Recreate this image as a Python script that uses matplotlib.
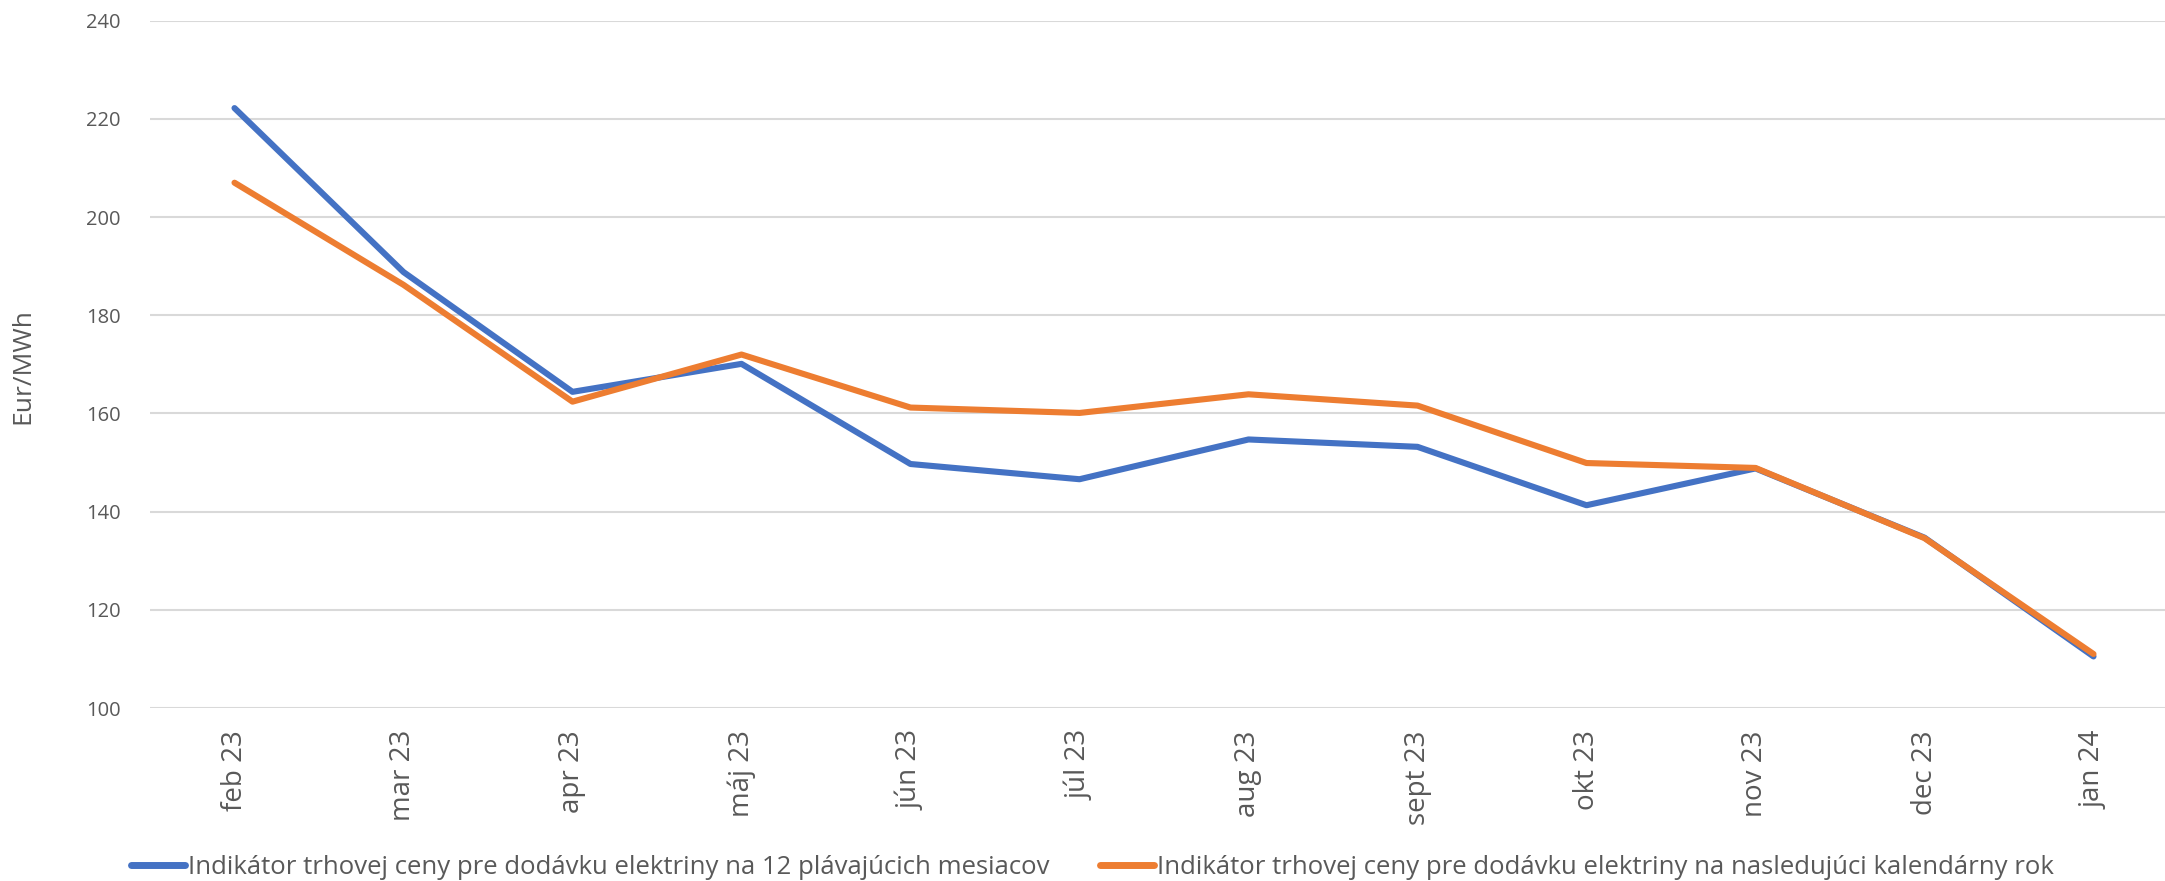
import matplotlib
matplotlib.use("Agg")
import matplotlib.pyplot as plt

months = ["feb 23", "mar 23", "apr 23", "máj 23", "jún 23", "júl 23", "aug 23",
          "sept 23", "okt 23", "nov 23", "dec 23", "jan 24"]
rolling_12m = [222.2, 188.8, 164.4, 170.1, 149.7, 146.6, 154.7, 153.2, 141.3, 148.8, 134.7, 110.5]
next_year = [207.0, 186.2, 162.4, 172.0, 161.2, 160.1, 163.9, 161.6, 149.9, 148.9, 134.6, 111.0]
labels = ["Indikátor trhovej ceny pre dodávku elektriny na 12 plávajúcich mesiacov",
          "Indikátor trhovej ceny pre dodávku elektriny na nasledujúci kalendárny rok"]
yticks = [100, 120, 140, 160, 180, 200, 220, 240]

plt.rcParams['font.family'] = ['Open Sans', 'DejaVu Sans']
txt = '#595959'

W, H = 2165, 881
fig = plt.figure(figsize=(W / 100, H / 100), dpi=100)
left, right = 150 / W, 2178 / W
bottom, top = 1 - 708 / H, 1 - 20.7 / H
ax = fig.add_axes([left, bottom, right - left, top - bottom])

x = list(range(len(months)))
ax.plot(x, rolling_12m, color='#4472C4', lw=4.4, solid_capstyle='round', solid_joinstyle='round', label=labels[0], zorder=3)
ax.plot(x, next_year, color='#ED7D31', lw=4.4, solid_capstyle='round', solid_joinstyle='round', label=labels[1], zorder=4)

ax.set_xlim(-0.5, len(months) - 0.5)
ax.set_ylim(100, 240)
ax.set_yticks(yticks)
ax.set_xticks(x)
ax.set_xticklabels(months, rotation=90, fontsize=20, color=txt)
ax.tick_params(axis='x', length=0, pad=16)
ax.tick_params(axis='y', length=0, pad=21, labelsize=14.5, labelcolor=txt)
ax.grid(axis='y', color='#d9d9d9', lw=1.5)
ax.set_axisbelow(True)
for s in ax.spines.values():
    s.set_visible(False)

fig.text(23 / W, 1 - 366 / H, "Eur/MWh", rotation=90, fontsize=19, color=txt, ha='center', va='center')

leg = ax.legend(loc='center left', bbox_to_anchor=(131 / W, 1 - 867 / H), bbox_transform=fig.transFigure,
                ncol=2, frameon=False, fontsize=18.5, handlelength=2.1, handletextpad=0.12,
                columnspacing=1.95, borderaxespad=0, borderpad=0)
for t in leg.get_texts():
    t.set_color(txt)
for l in leg.get_lines():
    l.set_linewidth(5)

fig.savefig("out.png", dpi=100)
